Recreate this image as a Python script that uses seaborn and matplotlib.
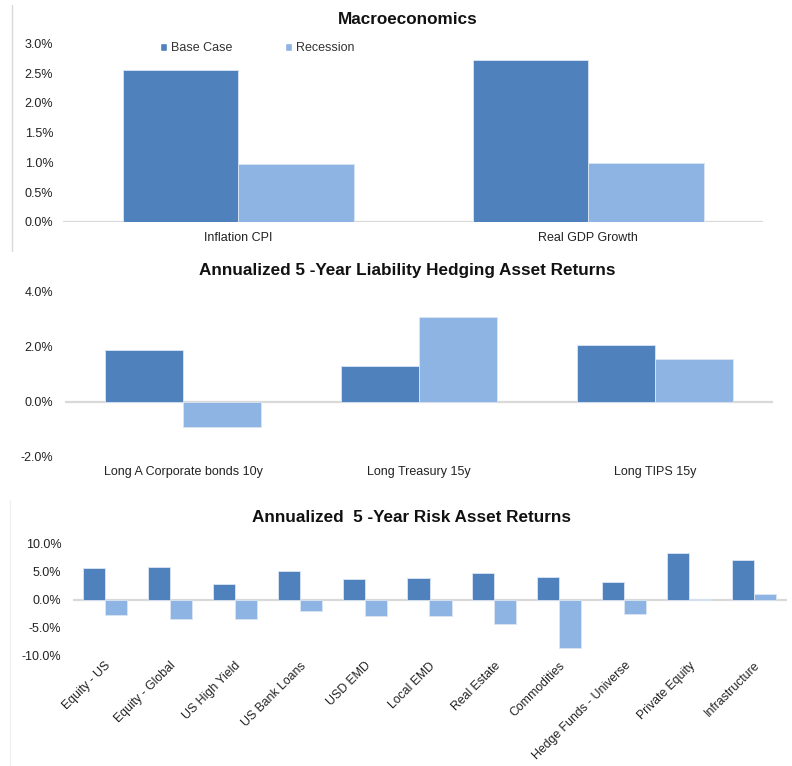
import matplotlib
matplotlib.use("Agg")
import matplotlib.pyplot as plt
import seaborn as sns
import pandas as pd
from matplotlib.patches import Patch
from matplotlib.lines import Line2D
from matplotlib.ticker import FuncFormatter

# ---- data (percent) ----
scenarios = ["Base Case", "Recession"]

macro_labels = ["Inflation CPI", "Real GDP Growth"]
macro_base = [2.56, 2.72]
macro_recession = [0.98, 0.99]

hedge_labels = ["Long A Corporate bonds 10y", "Long Treasury 15y", "Long TIPS 15y"]
hedge_base = [1.88, 1.31, 2.06]
hedge_recession = [-0.91, 3.07, 1.55]

risk_labels = ["Equity - US", "Equity - Global", "US High Yield", "US Bank Loans",
               "USD EMD", "Local EMD", "Real Estate", "Commodities",
               "Hedge Funds - Universe", "Private Equity", "Infrastructure"]
risk_base = [5.6, 5.8, 2.8, 5.05, 3.6, 3.8, 4.8, 4.0, 3.15, 8.3, 7.1]
risk_recession = [-2.7, -3.45, -3.5, -2.1, -3.0, -3.0, -4.4, -8.7, -2.55, 0.1, 0.95]

colors = ["#4F81BD", "#8EB4E3"]


def to_long(labels, base, rec):
    rows = []
    for lab, b, r in zip(labels, base, rec):
        rows.append({"asset": lab, "scenario": scenarios[0], "value": b})
        rows.append({"asset": lab, "scenario": scenarios[1], "value": r})
    return pd.DataFrame(rows)


sns.set_style("white")
plt.rcParams["font.family"] = ["Liberation Sans", "DejaVu Sans"]
plt.rcParams["text.color"] = "#333333"

fig = plt.figure(figsize=(7.92, 7.66), dpi=100)
W, H = 792, 766


def add_axes(x0, x1, ytop, ybot):
    return fig.add_axes([x0 / W, 1 - ybot / H, (x1 - x0) / W, (ybot - ytop) / H])


pct = FuncFormatter(lambda v, _: f"{v:.1f}%")


def draw(ax, df, labels, width, ylim, yticks, ypad):
    sns.barplot(data=df, x="asset", y="value", hue="scenario", order=labels,
                hue_order=scenarios, palette=colors, width=width, ax=ax,
                saturation=1, edgecolor="#DCE6F2", linewidth=0.6,
                legend=False, zorder=2)
    ax.axhline(0, color="#D9D9D9", lw=1.6, zorder=1)
    ax.set_ylim(*ylim)
    ax.set_yticks(yticks)
    ax.yaxis.set_major_formatter(pct)
    ax.set_xlabel("")
    ax.set_ylabel("")
    sns.despine(ax=ax, left=True, bottom=True)
    ax.tick_params(axis="both", length=0, labelsize=9, colors="#222222")
    ax.tick_params(axis="y", pad=ypad)
    ax.set_xlim(-0.5, len(labels) - 0.5)


# Macroeconomics
ax1 = add_axes(63, 763, 43.3, 222)
draw(ax1, to_long(macro_labels, macro_base, macro_recession), macro_labels,
     0.66, (0, 3.0), [0, 0.5, 1.0, 1.5, 2.0, 2.5, 3.0], 7)
ax1.tick_params(axis="x", pad=7)
ax1.legend(handles=[Patch(facecolor=c, label=s) for c, s in zip(colors, scenarios)],
           ncol=2, frameon=False, fontsize=9, handlelength=0.6, handleheight=0.6,
           handletextpad=0.3, columnspacing=4.2, loc="center",
           bbox_to_anchor=(257 / W, 1 - 48 / H), bbox_transform=fig.transFigure)

# Liability hedging
ax2 = add_axes(65, 773, 291.7, 456.7)
draw(ax2, to_long(hedge_labels, hedge_base, hedge_recession), hedge_labels,
     0.66, (-2.0, 4.0), [-2, 0, 2, 4], 8.5)
ax2.tick_params(axis="x", pad=7)

# Risk assets
ax3 = add_axes(72.5, 786.5, 543.3, 655.7)
draw(ax3, to_long(risk_labels, risk_base, risk_recession), risk_labels,
     0.68, (-10, 10), [-10, -5, 0, 5, 10], 8)
for t in ax3.get_xticklabels():
    t.set_rotation(45)
    t.set_ha("right")
    t.set_va("top")
    t.set_rotation_mode("anchor")
ax3.tick_params(axis="x", pad=3, labelsize=8.8)

# titles
title_kw = dict(ha="center", va="center", fontsize=12.3, fontweight="bold", color="#111111")
fig.text(408 / W, 1 - 19 / H, "Macroeconomics", **title_kw)
fig.text(407.5 / W, 1 - 270 / H, "Annualized 5 -Year Liability Hedging Asset Returns", **title_kw)
fig.text(411.5 / W, 1 - 517 / H, "Annualized  5 -Year Risk Asset Returns", **title_kw)

# faint frame edges on the left
fig.add_artist(Line2D([12 / W, 12 / W], [1 - 5 / H, 1 - 251 / H], color="#D9D9D9", lw=1))
fig.add_artist(Line2D([10 / W, 10 / W], [1 - 500 / H, 0], color="#F0F0F0", lw=1))

fig.savefig("out.png", dpi=100)
